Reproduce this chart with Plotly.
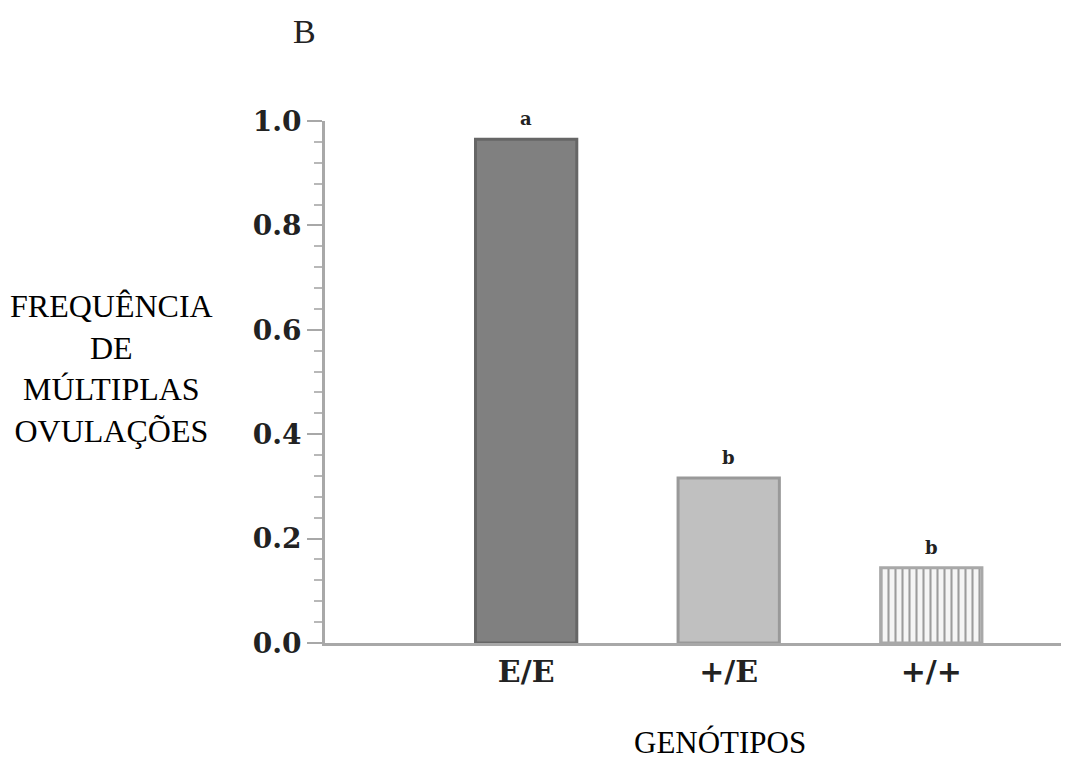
import plotly.graph_objects as go

genotypes = ["E/E", "+/E", "+/+"]
frequencies = [0.965, 0.316, 0.144]
letters = ["a", "b", "b"]
fills = ["#808080", "#c0c0c0", "#f5f5f5"]
borders = ["#666666", "#999999", "#a8a8a8"]
patterns = ["", "", "|"]

serif = "Liberation Serif, Times New Roman, serif"
bold_serif = "DejaVu Serif, serif"

fig = go.Figure()
fig.add_trace(go.Bar(
    x=genotypes, y=frequencies, width=0.5,
    marker=dict(color=fills, line=dict(color=borders, width=3),
                pattern=dict(shape=patterns, fgcolor="#ebebeb", bgcolor="#f7f7f7", size=7, solidity=0.3)),
    showlegend=False,
))
for g, v, t in zip(genotypes, frequencies, letters):
    fig.add_annotation(x=g, y=v, text="<b>" + t + "</b>", showarrow=False,
                       yanchor="bottom", yshift=8,
                       font=dict(family=bold_serif, size=18, color="#222222"))

# page body has an 8px margin; figure is sized/offset to compensate
fig.update_layout(
    width=1061, height=752,
    margin=dict(l=317, r=2, t=113, b=117),
    plot_bgcolor="white", paper_bgcolor="white",
)
fig.update_xaxes(
    range=[-0.993, 2.67], showline=True, linecolor="#a8a8a8", linewidth=3,
    ticks="", showgrid=False, zeroline=False,
    tickfont=dict(family=bold_serif, size=30, color="#222222"),
    tickprefix="<b>", ticksuffix="</b>",
)
fig.update_yaxes(
    range=[0, 1.0], showline=True, linecolor="#a8a8a8", linewidth=3,
    tickvals=[0, 0.2, 0.4, 0.6, 0.8, 1.0],
    ticktext=["<b>0.0</b>", "<b>0.2</b>", "<b>0.4</b>", "<b>0.6</b>", "<b>0.8</b>", "<b>1.0</b>"],
    ticks="outside", ticklen=15, tickwidth=2, tickcolor="#a8a8a8",
    minor=dict(dtick=0.04, ticks="outside", ticklen=8, tickwidth=2, tickcolor="#b8b8b8", showgrid=False),
    showgrid=False, zeroline=False,
    tickfont=dict(family=bold_serif, size=28, color="#222222"),
)
fig.add_annotation(xref="paper", yref="paper", x=-0.2884, y=0.525,
                   text="FREQUÊNCIA<br>DE<br>MÚLTIPLAS<br>OVULAÇÕES",
                   showarrow=False, align="center", xanchor="center", yanchor="middle",
                   font=dict(family=serif, size=32, color="black"))
fig.add_annotation(xref="paper", yref="paper", x=0.532, y=-0.1897,
                   text="GENÓTIPOS", showarrow=False, xanchor="center", yanchor="middle",
                   font=dict(family=serif, size=31, color="black"))
fig.add_annotation(xref="paper", yref="paper", x=-0.0283, y=1.172,
                   text="B", showarrow=False, xanchor="center", yanchor="middle",
                   font=dict(family=serif, size=34, color="#222222"))

fig.write_html("out.html")
